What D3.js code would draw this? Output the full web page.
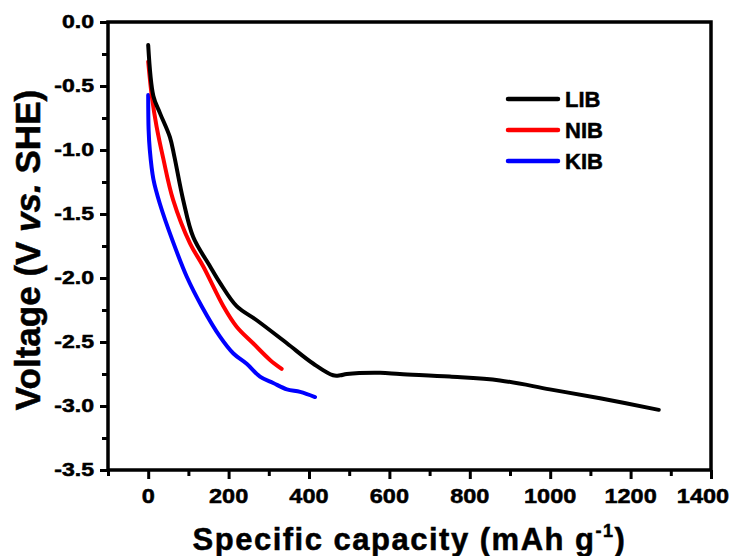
<!DOCTYPE html>
<html>
<head>
<meta charset="utf-8">
<script src="https://cdn.jsdelivr.net/npm/d3@7"></script>
<style>
  body { margin: 0; background: #fff; }
  svg { font-family: 'Liberation Sans', Arial, sans-serif; font-weight: bold; }
  .label { fill: #000; stroke: #000; stroke-width: 0.5px; }
</style>
</head>
<body>
<svg class="chart" width="743" height="556"></svg>
<script>
// capacity (mAh g-1), voltage (V vs. SHE)
const libCap = [0, 13, 29, 54, 65, 87, 112, 154, 179, 220, 270, 345, 411, 460, 478, 494, 577, 626, 750, 875, 999, 1124, 1270];
const libV = [-0.18, -0.58, -0.71, -0.90, -1.05, -1.39, -1.68, -1.91, -2.04, -2.22, -2.33, -2.51, -2.67, -2.76, -2.76, -2.75, -2.74, -2.75, -2.77, -2.80, -2.87, -2.94, -3.03];

const nibCap = [0, 9, 21, 37, 62, 104, 137, 187, 220, 261, 303, 332];
const nibV = [-0.31, -0.58, -0.82, -1.06, -1.39, -1.73, -1.91, -2.22, -2.38, -2.51, -2.64, -2.71];

const kibCap = [0, 1, 4, 13, 29, 62, 96, 133, 179, 212, 245, 278, 311, 345, 378, 415];
const kibV = [-0.57, -0.84, -1.00, -1.23, -1.42, -1.72, -1.99, -2.22, -2.46, -2.59, -2.67, -2.77, -2.82, -2.87, -2.89, -2.93];

const seriesNames = ['LIB', 'NIB', 'KIB'];
const seriesColors = ['#000000', '#ff0000', '#0000ff'];

const xTicks = [0, 200, 400, 600, 800, 1000, 1200, 1400];
const xMinor = [-100, 100, 300, 500, 700, 900, 1100, 1300];
const yTicks = [-3.5, -3.0, -2.5, -2.0, -1.5, -1.0, -0.5, 0.0];
const yMinor = [-3.25, -2.75, -2.25, -1.75, -1.25, -0.75, -0.25];

const chart = d3.select('.chart');
const margin = { left: 108, top: 22, right: 32, bottom: 86 };
const width = +chart.attr('width') - margin.left - margin.right;
const height = +chart.attr('height') - margin.top - margin.bottom;

const x = d3.scaleLinear().domain([-100, 1400]).range([0, width]);
const y = d3.scaleLinear().domain([-3.5, 0]).range([height, 0]);

const g = chart.append('g')
  .attr('transform', `translate(${margin.left},${margin.top})`);

// tick marks from the axes, labels drawn separately below
const tickAxis = (sel, axis) => {
  sel.call(axis);
  sel.selectAll('.domain').remove();
  sel.selectAll('.tick text').remove();
  sel.selectAll('.tick line').attr('stroke', '#000').attr('stroke-width', 3);
};

tickAxis(g.append('g').attr('transform', `translate(0,${height})`),
  d3.axisBottom(x).tickValues(xMinor).tickSize(6));
tickAxis(g.append('g'),
  d3.axisLeft(y).tickValues(yMinor).tickSize(6));
tickAxis(g.append('g').attr('transform', `translate(0,${height})`),
  d3.axisBottom(x).tickValues(xTicks).tickSize(9));
tickAxis(g.append('g'),
  d3.axisLeft(y).tickValues(yTicks).tickSize(8));

// the original lettering is wide, stretch glyphs a bit
const widen = (sel, k) => sel.each(function () {
  const len = this.getComputedTextLength();
  d3.select(this).attr('textLength', len * k).attr('lengthAdjust', 'spacingAndGlyphs');
});

const xLabels = g.append('g').selectAll('text')
  .data(xTicks)
  .join('text')
  .attr('class', 'label')
  .attr('x', d => x(d) - (d === 1400 ? 8 : 0))
  .attr('y', height + 33)
  .attr('text-anchor', 'middle')
  .attr('font-size', 21)
  .text(d => d);
widen(xLabels, 1.12);

const yLabels = g.append('g').selectAll('text')
  .data(yTicks)
  .join('text')
  .attr('class', 'label')
  .attr('x', -14)
  .attr('y', d => y(d))
  .attr('dy', '0.36em')
  .attr('text-anchor', 'end')
  .attr('font-size', 18)
  .text(d => d.toFixed(1));
widen(yLabels, 1.28);

// frame
g.append('rect')
  .attr('width', width)
  .attr('height', height)
  .attr('fill', 'none')
  .attr('stroke', '#000')
  .attr('stroke-width', 3.5);

const line = d3.line()
  .x(d => x(d[0]))
  .y(d => y(d[1]))
  .curve(d3.curveCatmullRom.alpha(0.5));

const series = [
  d3.zip(libCap, libV),
  d3.zip(nibCap, nibV),
  d3.zip(kibCap, kibV)
];

// draw KIB first so LIB sits on top
[2, 1, 0].forEach(i => {
  g.append('path')
    .attr('d', line(series[i]))
    .attr('fill', 'none')
    .attr('stroke', seriesColors[i])
    .attr('stroke-width', 4)
    .attr('stroke-linejoin', 'round')
    .attr('stroke-linecap', 'round');
});

// legend
const legend = g.append('g').attr('transform', 'translate(400,77)');
seriesNames.forEach((name, i) => {
  const row = legend.append('g').attr('transform', `translate(0,${i * 31})`);
  row.append('line')
    .attr('x1', 0).attr('x2', 50)
    .attr('stroke', seriesColors[i])
    .attr('stroke-width', 4.5)
    .attr('stroke-linecap', 'round');
  row.append('text')
    .attr('class', 'label')
    .attr('x', 57)
    .attr('dy', '0.35em')
    .attr('font-size', 22)
    .text(name);
});

// axis titles
const xTitle = chart.append('text')
  .attr('class', 'label')
  .attr('x', margin.left + width / 2)
  .attr('y', 550)
  .attr('text-anchor', 'middle')
  .attr('font-size', 31)
  .attr('letter-spacing', 1.5);
xTitle.append('tspan').text('Specific capacity (mAh g');
xTitle.append('tspan').attr('font-size', 18).attr('dy', -13).text('-1');
xTitle.append('tspan').attr('dy', 13).text(')');

const yTitle = chart.append('text')
  .attr('class', 'label')
  .attr('transform', `translate(40,${margin.top + height / 2 + 4}) rotate(-90)`)
  .attr('text-anchor', 'middle')
  .attr('font-size', 35);
yTitle.append('tspan').text('Voltage (V ');
yTitle.append('tspan').attr('font-style', 'italic').text('vs.');
yTitle.append('tspan').text(' SHE)');
</script>
</body>
</html>
